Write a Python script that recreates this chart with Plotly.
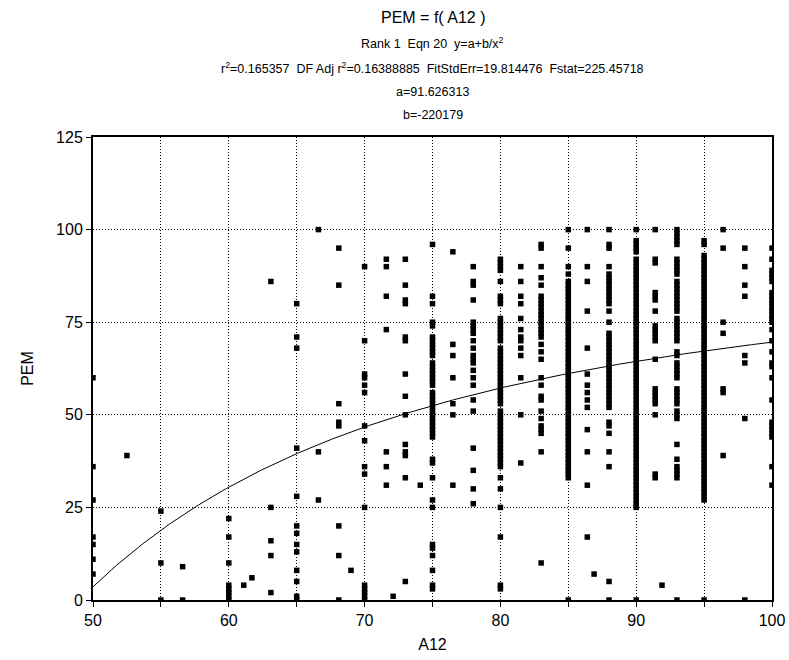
import numpy as np
import plotly.graph_objects as go

# Fitted model y = a + b / x^2
FIT_A = 91.626313
FIT_B = -220179

# PEM observations grouped by A12 level
pem_50 = [60, 36, 27, 17, 15, 11, 7]
pem_52_5 = [39]
pem_55 = [24, 10, 0]
pem_56_6 = [9, 0]
pem_60 = [22, 17, 10, 4, 3, 2, 1, 0]
pem_61_1 = [4]
pem_61_7 = [6]
pem_63 = [86, 25, 16, 12, 2]
pem_65 = [80, 71, 68, 41, 28, 20, 18, 15, 13, 8, 5, 1, 0]
pem_66_6 = [100, 40, 27]
pem_68 = [95, 85, 53, 48, 47, 20, 12, 0]
pem_69 = [8]
pem_70 = [90, 70, 61, 60, 58, 56, 47, 43, 36, 34, 25, 4, 3, 2, 1, 0]
pem_71_6 = [92, 90, 82, 73, 40, 36, 31]
pem_72 = [1]
pem_73 = [92, 85, 81, 80, 71, 70, 61, 55, 50, 42, 40, 39, 33, 5]
pem_74 = [31]
pem_75 = [96, 82, 80, 75, 74, 71, 70, 69, 68, 67, 66, 64, 63, 62, 61, 60, 59, 58,
          56, 55, 54, 53, 52, 51, 50, 49, 48, 47, 46, 45, 44, 38, 37, 33, 27, 25,
          15, 14, 12, 8, 4, 3]
pem_76_5 = [94, 69, 66, 60, 53, 50, 31]
pem_78 = [90, 86, 85, 81, 75, 74, 73, 72, 70, 68, 66, 65, 64, 62, 60, 58, 54, 51,
          41, 35, 30, 26]
pem_80 = [92, 91, 90, 89, 86, 82, 81, 80, 76, 75, 74, 73, 72, 71, 70, 68, 67, 66,
          65, 64, 63, 62, 61, 60, 59, 58, 57, 56, 55, 54, 53, 51, 50, 49, 48, 47,
          46, 45, 44, 43, 42, 41, 40, 39, 38, 37, 36, 33, 30, 25, 17, 4, 3]
pem_81_5 = [90, 86, 82, 80, 76, 73, 71, 70, 68, 66, 60, 50, 37]
pem_83 = [96, 95, 90, 87, 85, 82, 81, 80, 79, 78, 77, 76, 75, 74, 73, 72, 71, 69,
          67, 65, 60, 58, 55, 54, 51, 49, 47, 46, 45, 40, 10]
pem_85 = [100, 95, 90, 88, 86, 85, 84, 83, 82, 81, 80, 79, 78, 77, 76, 75, 74, 73,
          72, 71, 70, 69, 68, 67, 66, 65, 64, 63, 62, 61, 60, 59, 58, 57, 56, 55,
          54, 53, 52, 51, 50, 49, 48, 47, 46, 45, 44, 43, 42, 41, 40, 39, 38, 37,
          36, 35, 34, 33, 0]
pem_86_4 = [100, 90, 86, 78, 68, 61, 58, 56, 54, 52, 46, 40, 31, 17]
pem_87 = [7]
pem_88 = [100, 96, 95, 90, 88, 87, 86, 85, 84, 83, 82, 81, 80, 78, 75, 72, 71, 70,
          69, 68, 67, 66, 65, 64, 63, 62, 61, 60, 59, 58, 57, 56, 55, 54, 53, 52,
          48, 47, 45, 40, 36, 5, 0]
pem_90 = [100, 97, 96, 95, 94, 92, 91, 90, 89, 88, 87, 86, 85, 84, 83, 82, 81, 80,
          79, 78, 77, 76, 75, 74, 73, 72, 71, 70, 69, 68, 67, 66, 65, 64, 63, 62,
          61, 60, 59, 58, 57, 56, 55, 54, 53, 52, 51, 50, 49, 48, 47, 46, 45, 44,
          43, 42, 41, 40, 39, 38, 37, 36, 35, 34, 33, 32, 31, 30, 29, 28, 27, 26,
          25, 0]
pem_91_4 = [100, 92, 91, 83, 82, 81, 78, 74, 73, 72, 71, 70, 65, 57, 56, 55, 54,
            53, 50, 34, 33]
pem_92 = [4]
pem_93 = [100, 99, 98, 97, 96, 92, 91, 90, 89, 88, 86, 85, 84, 83, 82, 81, 80, 79,
          78, 76, 75, 74, 73, 72, 71, 70, 67, 66, 64, 63, 62, 61, 60, 57, 56, 55,
          54, 53, 51, 50, 49, 42, 38, 36, 35, 34, 33, 0]
pem_95 = [97, 96, 93, 92, 91, 90, 89, 88, 87, 86, 85, 84, 83, 82, 81, 80, 79, 78,
          77, 76, 75, 74, 73, 72, 71, 70, 69, 68, 67, 66, 65, 64, 63, 62, 61, 60,
          59, 58, 57, 56, 55, 54, 53, 52, 51, 50, 49, 48, 47, 46, 45, 44, 43, 42,
          41, 40, 39, 38, 37, 36, 35, 34, 33, 32, 31, 30, 29, 28, 27, 0]
pem_96_4 = [100, 95, 75, 72, 57, 56, 39]
pem_98 = [95, 90, 85, 82, 66, 64, 49, 0]
pem_100 = [95, 92, 89, 88, 87, 86, 83, 82, 81, 80, 79, 78, 77, 76, 75, 73, 70, 67,
           64, 63, 60, 54, 48, 47, 46, 45, 44, 36, 31]

columns = [
    (50, pem_50), (52.5, pem_52_5), (55, pem_55), (56.6, pem_56_6), (60, pem_60),
    (61.1, pem_61_1), (61.7, pem_61_7), (63.1, pem_63), (65, pem_65),
    (66.6, pem_66_6), (68.1, pem_68), (69, pem_69), (70, pem_70),
    (71.6, pem_71_6), (72.1, pem_72), (73, pem_73), (74.1, pem_74), (75, pem_75),
    (76.5, pem_76_5), (78, pem_78), (80, pem_80), (81.5, pem_81_5), (83, pem_83),
    (85, pem_85), (86.4, pem_86_4), (86.9, pem_87), (88, pem_88), (90, pem_90),
    (91.4, pem_91_4), (91.9, pem_92), (93, pem_93), (95, pem_95),
    (96.4, pem_96_4), (98, pem_98), (100, pem_100),
]

x_ticks = [50, 60, 70, 80, 90, 100]
x_minor_step = 5
y_ticks = [0, 25, 50, 75, 100, 125]

xs, ys = [], []
for level, values in columns:
    xs.extend([level] * len(values))
    ys.extend(values)

curve_x = np.linspace(50, 100, 400)
curve_y = FIT_A + FIT_B / curve_x ** 2

fig = go.Figure()
fig.add_trace(go.Scatter(
    x=xs, y=ys, mode="markers",
    marker=dict(symbol="square", size=5.5, color="black", line=dict(width=0)),
    hoverinfo="x+y",
))
fig.add_trace(go.Scatter(
    x=curve_x, y=curve_y, mode="lines",
    line=dict(color="black", width=1), hoverinfo="skip",
))

FONT = "Liberation Sans, Arial, sans-serif"
GRID_DASH = "1px,2px"

axis_common = dict(
    showline=True, linecolor="black", linewidth=2, mirror=True,
    ticks="outside", ticklen=5, tickwidth=1, tickcolor="black",
    showgrid=True, gridcolor="black", gridwidth=1, griddash=GRID_DASH,
    zeroline=False, automargin=False,
    tickfont=dict(family=FONT, size=16, color="black"),
)

fig.update_layout(
    width=789, height=660,
    margin=dict(l=93, r=17, t=137, b=60),
    paper_bgcolor="white", plot_bgcolor="white",
    showlegend=False,
    font=dict(family=FONT, color="black"),
    xaxis=dict(
        range=[50, 100], tickvals=x_ticks,
        minor=dict(dtick=x_minor_step, tick0=50, showgrid=True,
                   gridcolor="black", gridwidth=1, griddash=GRID_DASH,
                   ticks="outside", ticklen=5, tickcolor="black"),
        title=dict(text="A12", font=dict(family=FONT, size=16), standoff=11),
        **axis_common,
    ),
    yaxis=dict(
        range=[0, 125], tickvals=y_ticks,
        title=dict(text="PEM", font=dict(family=FONT, size=16), standoff=18),
        **axis_common,
    ),
)

plot_h = 660 - 137 - 60
title_lines = [
    ("PEM = f( A12 )", 16, 18),
    ("Rank 1  Eqn 20  y=a+b/x<sup>2</sup>", 12.5, 43),
    ("r<sup>2</sup>=0.165357  DF Adj r<sup>2</sup>=0.16388885  FitStdErr=19.814476  Fstat=225.45718", 12.5, 68),
    ("a=91.626313", 12.5, 92),
    ("b=-220179", 12.5, 115),
]
for text, size, py in title_lines:
    fig.add_annotation(
        text=text, xref="paper", yref="paper", x=0.5,
        y=(660 - 60 - py) / plot_h, xanchor="center", yanchor="middle",
        showarrow=False, font=dict(family=FONT, size=size, color="black"),
    )

fig.write_html("out.html")
